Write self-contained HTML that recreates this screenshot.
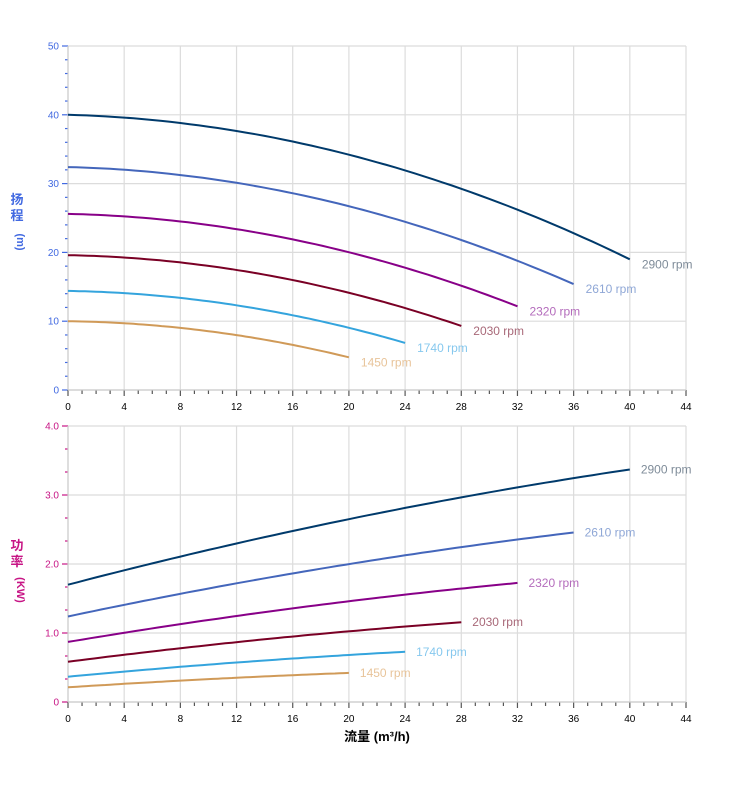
<!DOCTYPE html>
<html><head><meta charset="utf-8"><style>
body{margin:0;background:#fff;width:752px;height:797px;overflow:hidden}
svg{display:block}
text{font-family:"Liberation Sans","Noto Sans CJK SC",sans-serif}
</style></head><body>
<svg id="s" width="752" height="797" xmlns="http://www.w3.org/2000/svg"></svg>
<script>
const s=document.getElementById('s');let h='';
const X=q=>68+q*(618/44);
const YT=v=>390-v*(344/50);
const YB=v=>702-v*69;
function grid(top,bot,Y,maxv,step,nmin,col,fmt){
  for(let q=0;q<=44;q+=4)h+=`<line x1="${X(q)}" y1="${top}" x2="${X(q)}" y2="${bot}" stroke="#dcdcdc" stroke-width="1.2"/>`;
  const n=Math.round(maxv/step);
  for(let i=0;i<=n;i++){const v=i*step;h+=`<line x1="68" y1="${Y(v)}" x2="686" y2="${Y(v)}" stroke="#dcdcdc" stroke-width="1.2"/>`;
    h+=`<line x1="62" y1="${Y(v)}" x2="68" y2="${Y(v)}" stroke="${col}" stroke-width="1.2"/>`;
    h+=`<text x="59" y="${Y(v)+3.5}" font-size="10" fill="${col}" text-anchor="end">${fmt(v)}</text>`;
    if(i<n)for(let j=1;j<nmin;j++){const y=Y(v+step*j/nmin);h+=`<line x1="65" y1="${y}" x2="68" y2="${y}" stroke="${col}" stroke-width="1.2"/>`;}}
  h+=`<line x1="68" y1="${top}" x2="68" y2="${bot}" stroke="#ccc" stroke-width="1.2"/>`;
  for(let q=0;q<=44;q++){const big=q%4==0;h+=`<line x1="${X(q)}" y1="${bot}" x2="${X(q)}" y2="${bot+(big?6:4)}" stroke="#555" stroke-width="1.2"/>`;
    if(big)h+=`<text x="${X(q)}" y="${bot+20}" font-size="10" fill="#000" text-anchor="middle">${q}</text>`;}
  h+=`<line x1="68" y1="${bot}" x2="686" y2="${bot}" stroke="#ccc" stroke-width="1.2"/>`;
}
grid(46,390,YT,50,10,5,'#4169e1',v=>v);
grid(426,702,YB,4,1,3,'#c71585',v=>v==0?'0':v.toFixed(1));
const S=[[1,'#003a6b','#7f8c99'],[0.9,'#4466bb','#8fa7d6'],[0.8,'#880088','#b46cbc'],[0.7,'#7a0025','#a86878'],[0.6,'#34a4dd','#86c8ee'],[0.5,'#d09a58','#e8c49a']];
const rpm=['2900','2610','2320','2030','1740','1450'];
S.forEach(([r,c,lc],i)=>{
  const qm=40*r;let p1='',p2='';
  for(let k=0;k<=60;k++){const q=qm*k/60,q0=q/r;
    const H=(40-0.055*q0-0.01175*q0*q0)*r*r;const P=(1.7+0.05325*q0-0.0002875*q0*q0)*r*r*r;
    p1+=(k?'L':'M')+X(q).toFixed(1)+','+YT(H).toFixed(1);
    p2+=(k?'L':'M')+X(q).toFixed(1)+','+YB(P).toFixed(1);}
  h+=`<path d="${p1}" fill="none" stroke="${c}" stroke-width="2"/><path d="${p2}" fill="none" stroke="${c}" stroke-width="2"/>`;
  const He=19*r*r,Pe=3.37*r*r*r;
  h+=`<text x="${X(qm)+12}" y="${YT(He)+9}" font-size="12" fill="${lc}">${rpm[i]} rpm</text>`;
  h+=`<text x="${X(qm)+11}" y="${YB(Pe)+4}" font-size="12" fill="${lc}">${rpm[i]} rpm</text>`;
});
h+=`<text x="17" y="204" font-size="13" font-weight="bold" fill="#4169e1" text-anchor="middle">扬</text>
<text x="17" y="220" font-size="13" font-weight="bold" fill="#4169e1" text-anchor="middle">程</text>
<text x="17" y="242" font-size="11" font-weight="bold" fill="#4169e1" text-anchor="middle" transform="rotate(90 17 242)">(m)</text>
<text x="17" y="550" font-size="13" font-weight="bold" fill="#c71585" text-anchor="middle">功</text>
<text x="17" y="566" font-size="13" font-weight="bold" fill="#c71585" text-anchor="middle">率</text>
<text x="17" y="590" font-size="11" font-weight="bold" fill="#c71585" text-anchor="middle" transform="rotate(90 17 590)">(KW)</text>
<text x="377" y="741" font-size="13" font-weight="bold" fill="#000" text-anchor="middle">流量 (m³/h)</text>`;
s.innerHTML=h;
</script>
</body></html>
